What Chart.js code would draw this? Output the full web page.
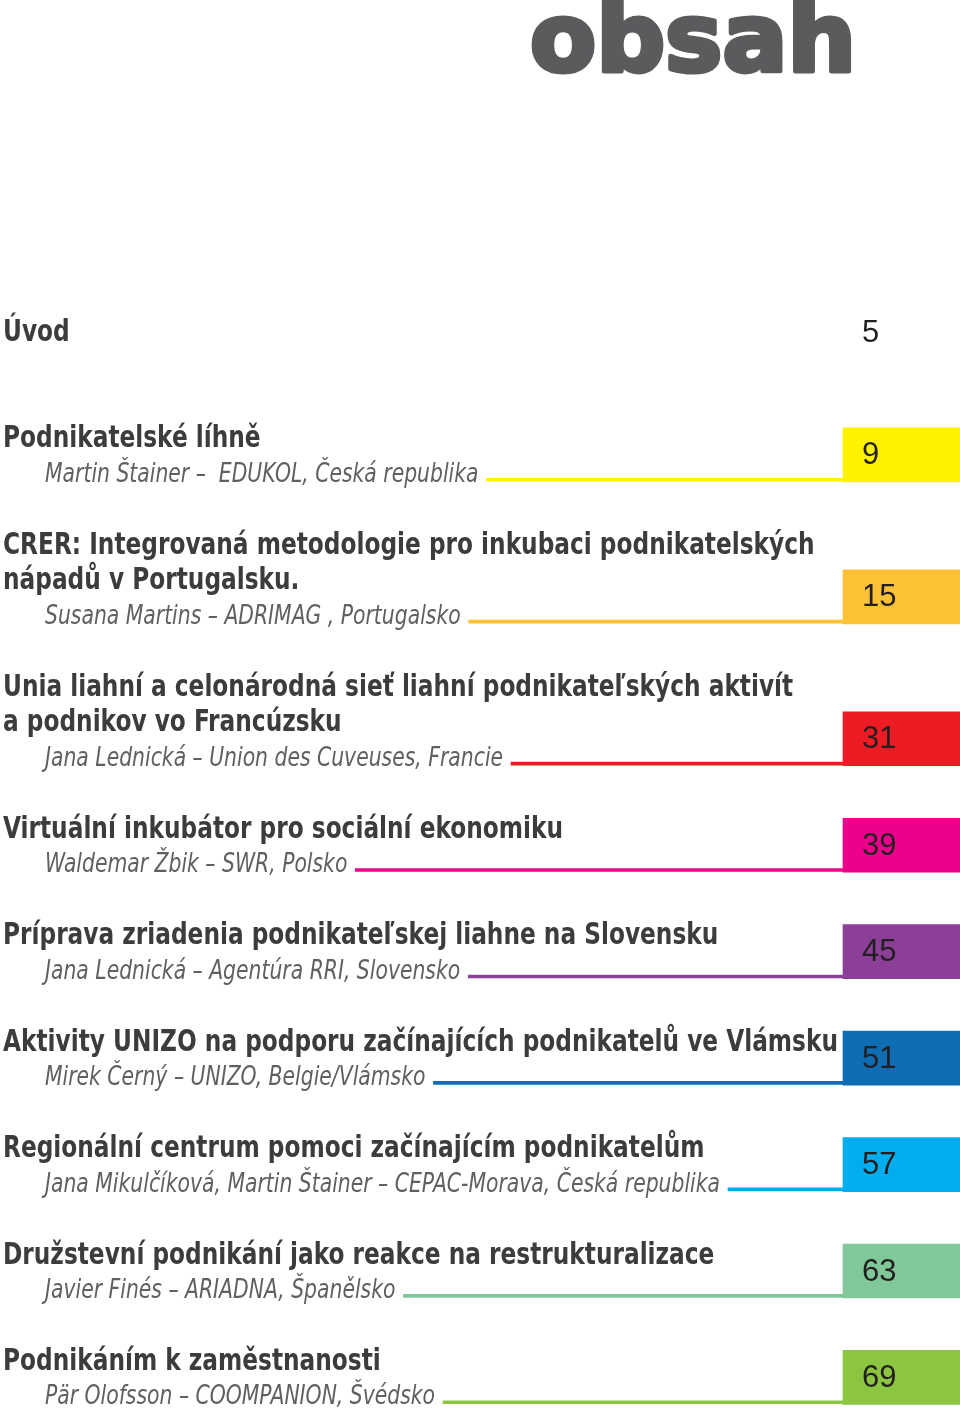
<!DOCTYPE html>
<html lang="cs">
<head>
<meta charset="utf-8">
<title>obsah</title>
<script src="https://cdn.jsdelivr.net/npm/chart.js@4.4.1/dist/chart.umd.min.js"></script>
<style>
  html, body { margin: 0; padding: 0; background: #fff; }
  #toc { display: block; }
</style>
</head>
<body>
<canvas id="toc" width="960" height="1414"></canvas>
<script>
// table of contents data
const sectionTitles = [
  ["Úvod"],
  ["Podnikatelské líhně"],
  ["CRER: Integrovaná metodologie pro inkubaci podnikatelských", "nápadů v Portugalsku."],
  ["Unia liahní a celonárodná sieť liahní podnikateľských aktivít", "a podnikov vo Francúzsku"],
  ["Virtuální inkubátor pro sociální ekonomiku"],
  ["Príprava zriadenia podnikateľskej liahne na Slovensku"],
  ["Aktivity UNIZO na podporu začínajících podnikatelů ve Vlámsku"],
  ["Regionální centrum pomoci začínajícím podnikatelům"],
  ["Družstevní podnikání jako reakce na restrukturalizace"],
  ["Podnikáním k zaměstnanosti"]
];
const sectionAuthors = [
  null,
  "Martin Štainer –  EDUKOL, Česká republika",
  "Susana Martins – ADRIMAG , Portugalsko",
  "Jana Lednická – Union des Cuveuses, Francie",
  "Waldemar Žbik – SWR, Polsko",
  "Jana Lednická – Agentúra RRI, Slovensko",
  "Mirek Černý – UNIZO, Belgie/Vlámsko",
  "Jana Mikulčíková, Martin Štainer – CEPAC-Morava, Česká republika",
  "Javier Finés – ARIADNA, Španělsko",
  "Pär Olofsson – COOMPANION, Švédsko"
];
const sectionPages = [5, 9, 15, 31, 39, 45, 51, 57, 63, 69];
const heading = "obsah";

// styles
const chapterColors = [null, "#fff200", "#fdc136", "#ed1c24", "#ec008c", "#8b3f97",
  "#0f6db3", "#00adee", "#80c89a", "#8cc540"];
const titleFont = 'bold 31px "Liberation Sans Narrow", "DejaVu Sans Condensed", sans-serif';
const authorFont = 'italic 26px "Liberation Sans Narrow", "DejaVu Sans Condensed", sans-serif';
const pageFont = '31px "Liberation Sans", Arial, sans-serif';
const headFont = 'bold 95px "DejaVu Sans", sans-serif';
const titleColor = "#3c3c3e";
const authorColor = "#606063";
const headColor = "#5b5b5e";

const PAGE_W = 960;
const TEXT_X = 3, AUTHOR_X = 45, BOX_LEFT = 843, PAGE_X = 862, LINE_END = 877;
const TITLE_FIT = 835;   // width of the longest title line
const AUTHOR_FIT = 675;  // width of the longest author line
const HEAD_X = 530, HEAD_W = 326;

// rows: one row = one text line
const rows = [];
let r = 0;
sectionTitles.forEach((lines, i) => {
  const titleRows = lines.map((_, k) => r + k);
  const last = titleRows[titleRows.length - 1];
  const authorRow = sectionAuthors[i] ? last + 1 : null;
  rows.push({ titleRows, authorRow });
  r = (authorRow !== null ? authorRow + 2 : last + 3);
});

// horizontal condensing so the fallback fonts fit the narrow layout
const measure = document.createElement("canvas").getContext("2d");
measure.font = titleFont;
const titleScale = TITLE_FIT / Math.max(...sectionTitles.flat().map(t => measure.measureText(t).width));
measure.font = authorFont;
const authorWidths = sectionAuthors.map(a => a ? measure.measureText(a).width : 0);
const authorScale = AUTHOR_FIT / Math.max(...authorWidths);

const boxData = [];
const lineData = [];
const boxColors = [];
rows.forEach((row, i) => {
  if (row.authorRow === null) return;
  boxData.push({ x: [BOX_LEFT, PAGE_W], y: row.authorRow - 0.48, page: sectionPages[i] });
  lineData.push({ x: [AUTHOR_X + authorWidths[i] * authorScale + 8, LINE_END], y: row.authorRow + 0.22 });
  boxColors.push(chapterColors[i]);
});

function squeezeText(ctx, text, x, y, sx) {
  ctx.save();
  ctx.translate(x, y);
  ctx.scale(sx, 1);
  ctx.fillText(text, 0, 0);
  ctx.restore();
}

const tocText = {
  id: "tocText",
  afterDatasetsDraw(chart) {
    const ctx = chart.ctx;
    const ys = chart.scales.y;
    ctx.save();
    ctx.textAlign = "left";
    ctx.textBaseline = "alphabetic";

    // heading
    ctx.font = headFont;
    const hw = ctx.measureText(heading).width;
    ctx.save();
    ctx.translate(HEAD_X, 71);
    ctx.scale(HEAD_W / hw, 1);
    ctx.fillStyle = headColor;
    ctx.strokeStyle = headColor;
    ctx.lineWidth = 5;
    ctx.lineJoin = "round";
    ctx.fillText(heading, 0, 0);
    ctx.strokeText(heading, 0, 0);
    ctx.restore();

    rows.forEach((row, i) => {
      ctx.font = titleFont;
      ctx.fillStyle = titleColor;
      sectionTitles[i].forEach((line, k) => {
        squeezeText(ctx, line, TEXT_X, ys.getPixelForValue(row.titleRows[k]) + 11, titleScale);
      });
      if (row.authorRow !== null) {
        ctx.font = authorFont;
        ctx.fillStyle = authorColor;
        squeezeText(ctx, sectionAuthors[i], AUTHOR_X, ys.getPixelForValue(row.authorRow) + 10, authorScale);
      } else {
        ctx.font = pageFont;
        ctx.fillStyle = "#231f20";
        ctx.fillText(String(sectionPages[i]), PAGE_X, ys.getPixelForValue(row.titleRows[0]) + 12);
      }
    });

    // page numbers inside the boxes
    const meta = chart.getDatasetMeta(1);
    ctx.font = pageFont;
    ctx.fillStyle = "#231f20";
    ctx.textBaseline = "middle";
    meta.data.forEach((bar, j) => {
      ctx.fillText(String(boxData[j].page), PAGE_X, bar.y + 1);
    });
    ctx.restore();
  }
};

new Chart(document.getElementById("toc"), {
  type: "bar",
  data: {
    datasets: [
      {
        label: "underline",
        data: lineData,
        backgroundColor: boxColors,
        barThickness: 3,
        borderWidth: 0,
        order: 1
      },
      {
        label: "page",
        data: boxData,
        backgroundColor: boxColors,
        barThickness: 54,
        borderWidth: 0,
        order: 0
      }
    ]
  },
  options: {
    indexAxis: "y",
    responsive: false,
    animation: false,
    devicePixelRatio: 1,
    grouped: false,
    layout: { padding: 0 },
    plugins: {
      legend: { display: false },
      tooltip: { enabled: false },
      title: { display: false }
    },
    scales: {
      x: { type: "linear", min: 0, max: PAGE_W, display: false, offset: false },
      y: { type: "linear", reverse: true, min: -9.3, max: 30.55, display: false, offset: false }
    }
  },
  plugins: [tocText]
});
</script>
</body>
</html>
